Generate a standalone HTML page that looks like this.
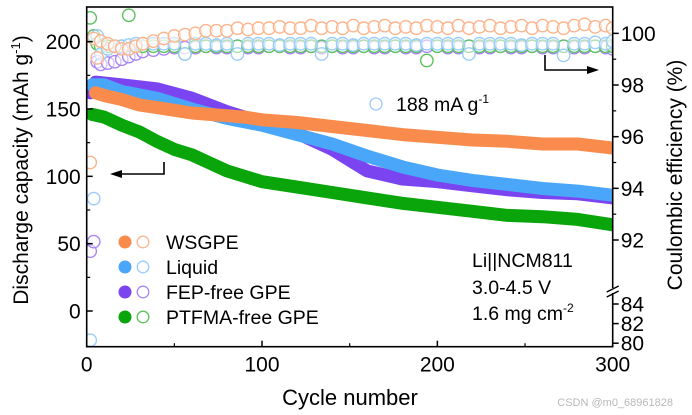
<!DOCTYPE html>
<html><head><meta charset="utf-8">
<style>
html,body{margin:0;padding:0;background:#fff;}
svg{display:block;font-family:"Liberation Sans",Arial,sans-serif;}
</style></head>
<body>
<svg id="chart" width="692" height="415" viewBox="0 0 692 415" xmlns="http://www.w3.org/2000/svg">
<g id="ce-layer"></g>
<g id="cap-layer"></g>
<g id="axes"></g>
<g id="annot"></g>
</svg>
<script>
// ---- data ----
const xTicks = [0, 100, 200, 300];
const yLeftTicks = [0, 50, 100, 150, 200];
const yRightTicks = [92, 94, 96, 98, 100];
const yRightLowTicks = [80, 82, 84];
const seriesNames = ["WSGPE", "Liquid", "FEP-free GPE", "PTFMA-free GPE"];
const seriesColors = ["#f98c4c", "#4aa6f8", "#7a45f0", "#0aa50a"];
const ceColors = ["#fbb48c", "#9ccdfb", "#a985f5", "#5cc25c"];

const capWsgpeCycles = [5,10,20,30,40,50,60,70,80,90,100,120,140,160,180,200,220,240,260,280,300];
const capWsgpe = [162,160,157,153,151,149,147,146,145,144,142,140,137,134,131,129,127,126,124,124,121];
const capLiquidCycles = [3,10,20,40,60,80,100,120,140,160,180,200,220,240,260,280,300];
const capLiquid = [168,168,163,158,150,143,138,131,124,115,107,101,97,94,91,89,86];
const capFepCycles = [2,5,20,40,60,80,100,120,140,150,160,180,200,220,240,260,280,300];
const capFep = [162,170,168,165,158,148,140,132,120,112,104,98,96,93,90,88,87,84];
const capPtfmaCycles = [3,10,20,30,40,50,60,70,80,90,100,120,140,160,180,200,220,240,260,280,300];
const capPtfma = [146,144,138,133,126,120,116,110,104,100,96,92,88,84,80,77,74,71,70,68,64];

const ceCycles = [2,4,6,8,12,16,20,24,28,32,38,44,50,56,62,68,74,80,86,92,98,104,110,116,122,128,134,140,146,152,158,164,170,176,182,188,194,200,206,212,218,224,230,236,242,248,254,260,266,272,278,284,290,296,300];
const ceWsgpe = [95.0,99.8,99.05,99.7,99.6,99.5,99.4,99.4,99.5,99.6,99.7,99.8,99.9,99.95,100.0,100.1,100.1,100.1,100.2,100.15,100.2,100.2,100.25,100.2,100.2,100.3,100.2,100.25,100.2,100.3,100.2,100.25,100.3,100.2,100.25,100.2,100.3,100.25,100.2,100.3,100.2,100.25,100.3,100.2,100.25,100.3,100.2,100.3,100.25,100.2,100.3,100.35,100.25,100.3,100.2];
const ceLiquid = [80.3,93.6,99.9,99.2,99.4,99.5,99.5,99.55,99.6,99.6,99.6,99.6,99.6,99.2,99.6,99.6,99.55,99.6,99.2,99.6,99.6,99.6,99.55,99.6,99.6,99.6,99.2,99.6,99.6,99.55,99.6,99.6,99.6,99.6,99.6,99.55,99.6,99.6,99.6,99.6,99.2,99.6,99.6,99.6,99.6,99.55,99.6,99.6,99.6,99.15,99.6,99.6,99.65,99.6,99.7];
const cePurple = [90.6,91.8,98.9,98.8,98.85,98.9,99.0,99.1,99.2,99.3,99.35,99.4,99.45,99.45,99.45,99.5,99.45,99.45,99.5,99.45,99.45,99.5,99.5,99.45,99.45,99.5,99.45,99.5,99.45,99.45,99.5,99.45,99.45,99.5,99.45,99.45,99.5,99.5,99.45,99.45,99.5,99.45,99.45,99.5,99.45,99.45,99.5,99.45,99.45,99.5,99.45,99.45,99.5,99.45,99.4];
const ceGreen = [100.6,99.9,99.6,99.5,99.5,99.5,99.5,100.7,99.5,99.5,99.5,99.5,99.5,99.2,99.5,99.5,99.5,99.5,99.5,99.5,99.5,99.5,99.5,99.5,99.5,99.5,99.5,99.5,99.5,99.5,99.5,99.5,99.5,99.5,99.5,99.5,98.95,99.5,99.5,99.5,99.5,99.5,99.5,99.5,99.5,99.5,99.5,99.5,99.5,99.5,99.5,99.5,99.5,99.5,99.5];

// ---- scales ----
const X0=86.7, X1=612.7, Y0=7, Y1=346.7;
function sx(c){return X0+(c/300)*(X1-X0);}
function syL(v){return 311-v*1.3467;}
function syR(p){
  if(p>=92) return 240-(p-92)*25.83;
  if(p>=84) return 304-(p-84)*8;
  return 304+(84-p)*9.8;
}
const NS="http://www.w3.org/2000/svg";
function mk(tag,attrs,parent){const e=document.createElementNS(NS,tag);for(const k in attrs)e.setAttribute(k,attrs[k]);parent.appendChild(e);return e;}

const ceL=document.getElementById('ce-layer');
const capL=document.getElementById('cap-layer');
const ax=document.getElementById('axes');
const an=document.getElementById('annot');

const defs=mk('defs',{},document.getElementById('chart'));
const cp=mk('clipPath',{id:'plotclip'},defs);
mk('rect',{x:X0,y:Y0,width:X1-X0,height:Y1-Y0},cp);
ceL.setAttribute('clip-path','url(#plotclip)');
capL.setAttribute('clip-path','url(#plotclip)');

// CE open circles
const ceSets=[cePurple,ceGreen,ceLiquid,ceWsgpe];
const ceCol=[ceColors[2],ceColors[3],ceColors[1],ceColors[0]];
const ceNm=['ce-fep-free','ce-ptfma-free','ce-liquid','ce-wsgpe'];
ceSets.forEach((arr,si)=>{
  const g=mk('g',{},ceL);
  
  
  arr.forEach((v,i)=>{
    const c=mk('circle',{cx:sx(ceCycles[i]),cy:syR(v),r:6.2,fill:'#fff','fill-opacity':0.5,stroke:ceCol[si],'stroke-width':1.4},g);
    
    
  });
});

// capacity thick lines
const capSets=[[capFepCycles,capFep,2,'capacity-fep-free'],[capLiquidCycles,capLiquid,1,'capacity-liquid'],[capWsgpeCycles,capWsgpe,0,'capacity-wsgpe'],[capPtfmaCycles,capPtfma,3,'capacity-ptfma-free']];
capSets.forEach(s=>{
  const pts=s[0].map((c,i)=>sx(c).toFixed(1)+','+syL(s[1][i]).toFixed(1)).join(' ');
  const p=mk('polyline',{points:pts,fill:'none',stroke:seriesColors[s[2]],'stroke-width':13,'stroke-linecap':'round','stroke-linejoin':'round'},capL);
  
  
});

const fr=mk('rect',{x:X0,y:Y0,width:X1-X0,height:Y1-Y0,fill:'none',stroke:'#000','stroke-width':1.6},ax);


xTicks.forEach(t=>{
  mk('line',{x1:sx(t),x2:sx(t),y1:Y1,y2:Y1-6,stroke:'#000','stroke-width':1.5},ax);
  const tx=mk('text',{x:sx(t),y:Y1+25,'font-size':21,'text-anchor':'middle'},ax);
  tx.textContent=t;
  
  
});
[50,150,250].forEach(t=>mk('line',{x1:sx(t),x2:sx(t),y1:Y1,y2:Y1-3.5,stroke:'#000','stroke-width':1.2},ax));
yLeftTicks.forEach(t=>{
  mk('line',{x1:X0,x2:X0+6,y1:syL(t),y2:syL(t),stroke:'#000','stroke-width':1.5},ax);
  const tx=mk('text',{x:X0-6,y:syL(t)+7.5,'font-size':21,'text-anchor':'end'},ax);
  tx.textContent=t;
  
  
});
[25,75,125,175].forEach(t=>mk('line',{x1:X0,x2:X0+3.5,y1:syL(t),y2:syL(t),stroke:'#000','stroke-width':1.2},ax));
yRightTicks.concat(yRightLowTicks).forEach(t=>{
  mk('line',{x1:X1,x2:X1+6,y1:syR(t),y2:syR(t),stroke:'#000','stroke-width':1.5},ax);
  const tx=mk('text',{x:X1+8,y:syR(t)+7.5,'font-size':21},ax);
  tx.textContent=t;
  
  
});
[93,95,97,99].forEach(t=>mk('line',{x1:X1,x2:X1+3.5,y1:syR(t),y2:syR(t),stroke:'#000','stroke-width':1.2},ax));
mk('rect',{x:X1-3,y:288,width:6,height:5,fill:'#fff'},ax);
mk('line',{x1:X1-6,y1:292,x2:X1+6,y2:286,stroke:'#000','stroke-width':1.5},ax);
mk('line',{x1:X1-6,y1:297,x2:X1+6,y2:291,stroke:'#000','stroke-width':1.5},ax);

let t=mk('text',{x:350,y:405,'font-size':22,'text-anchor':'middle'},ax);
t.textContent='Cycle number';


t=mk('text',{x:0,y:0,'font-size':21,'text-anchor':'middle',transform:'translate(28,170) rotate(-90)'},ax);
t.innerHTML='Discharge capacity (mAh g<tspan dy="-8" font-size="13">-1</tspan><tspan dy="8">)</tspan>';


t=mk('text',{x:0,y:0,'font-size':21,'text-anchor':'middle',transform:'translate(682,175) rotate(-90)'},ax);
t.textContent='Coulombic efficiency (%)';



seriesNames.forEach((n,i)=>{
  const y=242+i*25;
  const g=mk('g',{},an);
  
  
  mk('circle',{cx:125,cy:y,r:6.5,fill:seriesColors[i]},g);
  mk('circle',{cx:143,cy:y,r:5.8,fill:'#fff',stroke:ceColors[i],'stroke-width':1.3},g);
  const tx=mk('text',{x:166,y:y+7,'font-size':19.5},g);
  tx.textContent=n;
});
mk('circle',{cx:376,cy:104,r:6,fill:'#fff',stroke:ceColors[1],'stroke-width':1.3},an);
t=mk('text',{x:396,y:111,'font-size':19.5},an);
t.innerHTML='188 mA g<tspan dy="-8" font-size="12">-1</tspan>';


const info=['Li||NCM811','3.0-4.5 V'];
info.forEach((s,i)=>{const tt=mk('text',{x:472,y:267+i*27,'font-size':19.5},an);tt.textContent=s;});
t=mk('text',{x:472,y:320,'font-size':19.5},an);
t.innerHTML='1.6 mg cm<tspan dy="-8" font-size="12">-2</tspan>';


mk('polyline',{points:'164,162 164,174 120,174',fill:'none',stroke:'#000','stroke-width':1.6},an);
mk('polygon',{points:'110,174 122,170 122,178',fill:'#000'},an);
mk('polyline',{points:'545,55 545,70 588,70',fill:'none',stroke:'#000','stroke-width':1.6},an);
mk('polygon',{points:'599,70 587,66 587,74',fill:'#000'},an);
t=mk('text',{x:673,y:406,'font-size':11,fill:'#b8b8b8','text-anchor':'end'},an);
t.textContent='CSDN @m0_68961828';


</script>
</body></html>
